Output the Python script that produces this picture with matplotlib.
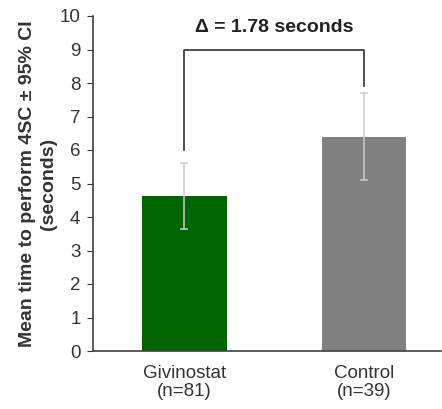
import numpy as np
import matplotlib
matplotlib.use("Agg")
import matplotlib.pyplot as plt

plt.rcParams['font.family'] = ['Liberation Sans', 'DejaVu Sans']

# data
groups = ['Givinostat\n(n=81)', 'Control\n(n=39)']
means = [4.62, 6.40]
ci_low = [3.65, 5.10]
ci_high = [5.60, 7.70]
colors = ['#006400', '#808080']
delta_text = 'Δ = 1.78 seconds'

fig = plt.figure(figsize=(4.42, 4.09), dpi=100)
ax = fig.add_axes([93/442, 1 - 351/409, 348/442, 335/409])

x = np.arange(len(groups))
yerr = [np.array(means) - np.array(ci_low), np.array(ci_high) - np.array(means)]
ax.bar(x, means, width=0.47, color=colors)
ax.errorbar(x, means, yerr=yerr, fmt='none', ecolor='#cccccc', elinewidth=1.1,
            capsize=3, capthick=1.1)

# bracket
ax.plot([x[0], x[0], x[1], x[1]], [6.0, 9.0, 9.0, 7.9], color='#404040', lw=1.3)
ax.text((x[0] + x[1]) / 2, 9.65, delta_text, ha='center', va='center',
        fontsize=14, fontweight='bold', color='#222222')

ax.set_xlim(-0.51, 1.43)
ax.set_ylim(0, 10)
ax.set_yticks(range(0, 11))
ax.set_xticks(x)
ax.set_xticklabels(groups, fontsize=13.5, color='#333333', linespacing=1.1)
ax.tick_params(axis='y', labelsize=13.5, colors='#333333', length=4, direction='out', pad=5)
ax.tick_params(axis='x', length=0, pad=10)
for s in ['top', 'right']:
    ax.spines[s].set_visible(False)
for s in ['left', 'bottom']:
    ax.spines[s].set_color('#404040')
    ax.spines[s].set_linewidth(1.2)
ax.set_ylabel('Mean time to perform 4SC ± 95% CI\n(seconds)', fontsize=14,
              fontweight='bold', color='#333333', labelpad=2, linespacing=1.3)

fig.savefig('out.png', dpi=100)
